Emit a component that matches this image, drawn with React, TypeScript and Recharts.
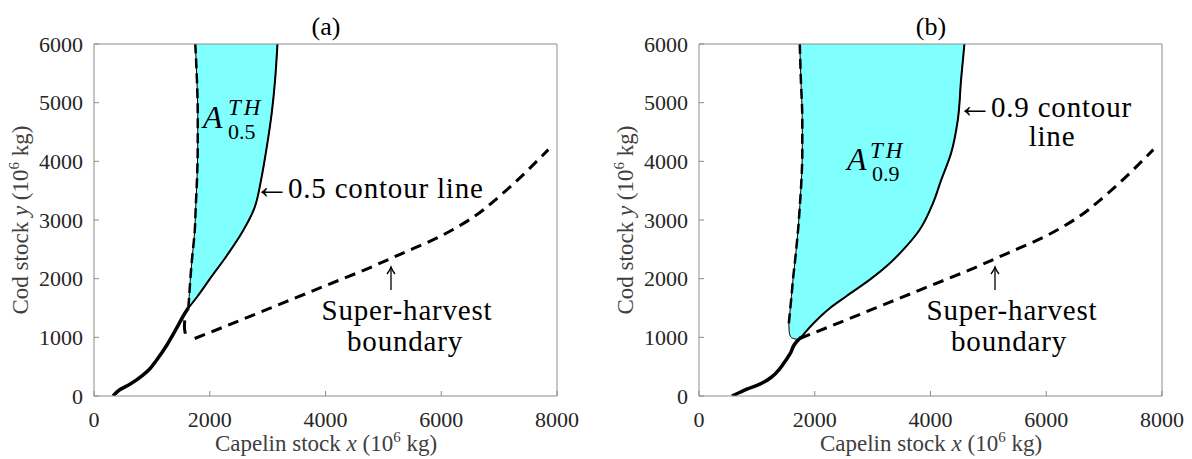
import React from 'react';
import { ComposedChart, Area, Line, XAxis, YAxis } from 'recharts';

const FONT = "'Liberation Serif', 'DejaVu Serif', 'Noto Serif', serif";
const TICK_COLOR = '#262626';
const LABEL_COLOR = '#404040';
const FRAME = '#8c8c8c';
const CYAN = '#80ffff';

const xTicks = [0, 2000, 4000, 6000, 8000];
const yTicks = [0, 1000, 2000, 3000, 4000, 5000, 6000];

// panel (a): solid trajectory from the origin side up to where the region starts
const lowerAX = [330, 450, 620, 850, 970, 1080, 1260, 1430, 1570, 1630];
const lowerAY = [0, 110, 200, 360, 470, 610, 870, 1160, 1410, 1500];

// panel (a): region A_0.5 (left = dashed boundary, right = 0.5 contour)
const bandAY = [1500, 1700, 2000, 2400, 2800, 3200, 3700, 4200, 4800, 5400, 6000];
const bandALeft = [1630, 1645, 1665, 1700, 1740, 1757, 1780, 1792, 1793, 1778, 1750];
const bandARight = [1630, 1790, 2005, 2300, 2565, 2770, 2890, 2978, 3068, 3130, 3170];

// panel (a): short piece of the lower boundary
const markAX = [1578, 1562, 1568];
const markAY = [1060, 1180, 1290];

// super-harvest boundary (same in both panels)
const superX = [1740, 2500, 3300, 4000, 4700, 5300, 6000, 6600, 7000, 7850];
const superY = [980, 1280, 1600, 1880, 2160, 2420, 2730, 3080, 3400, 4200];

// panel (b): solid trajectory
const lowerBX = [570, 700, 850, 1000, 1100, 1250, 1400, 1500, 1580, 1650, 1710, 1770];
const lowerBY = [0, 60, 125, 180, 225, 320, 470, 610, 730, 880, 950, 1005];

// panel (b): region A_0.9
const bandBY = [966, 980, 1010, 1060, 1120, 1240, 1380, 1500, 1700, 2000, 2260, 2550, 2830, 3280, 3680, 4140, 4700, 5400, 6000];
const bandBLeft = [1690, 1630, 1585, 1565, 1556, 1552, 1566, 1578, 1598, 1625, 1655, 1685, 1712, 1745, 1770, 1785, 1785, 1760, 1741];
const bandBRight = [1690, 1730, 1770, 1815, 1866, 1980, 2125, 2265, 2546, 2975, 3293, 3581, 3810, 4040, 4184, 4356, 4471, 4529, 4586];

const zip = (xs: number[], ys: number[]) => xs.map((x, i) => ({ x, y: ys[i] }));
const band = (ys: number[], lo: number[], hi: number[]) =>
    ys.map((y, i) => ({ y, lo: lo[i], hi: hi[i], range: [lo[i], hi[i]] }));

interface PanelProps {
    lower: { x: number; y: number }[];
    region: { y: number; lo: number; hi: number; range: number[] }[];
    dashedFrom: number;
    contourFrom: number;
    mark?: { x: number; y: number }[];
}

const tickStyle = { fontSize: 22, fill: TICK_COLOR, fontFamily: FONT };

const Panel: React.FC<PanelProps> = ({ lower, region, dashedFrom, contourFrom, mark }) => {
    const sup = zip(superX, superY);
    return (
        <ComposedChart
            width={600}
            height={459}
            layout="vertical"
            margin={{ top: 43, right: 42, bottom: 33, left: 34 }}
        >
            <XAxis
                type="number"
                domain={[0, 8000]}
                ticks={xTicks}
                allowDataOverflow
                height={30}
                tickSize={-5}
                tickMargin={20}
                tick={tickStyle}
                stroke={FRAME}
                interval={0}
            />
            <XAxis
                xAxisId="top"
                orientation="top"
                type="number"
                domain={[0, 8000]}
                ticks={xTicks}
                allowDataOverflow
                height={1}
                tickSize={-5}
                tick={false}
                stroke={FRAME}
            />
            <YAxis
                type="number"
                dataKey="y"
                domain={[0, 6000]}
                ticks={yTicks}
                reversed
                allowDataOverflow
                width={60}
                tickSize={-5}
                tickMargin={16}
                tick={tickStyle}
                stroke={FRAME}
                interval={0}
            />
            <YAxis
                yAxisId="right"
                orientation="right"
                type="number"
                dataKey="y"
                domain={[0, 6000]}
                ticks={yTicks}
                reversed
                allowDataOverflow
                width={1}
                tickSize={-5}
                tick={false}
                stroke={FRAME}
            />
            <Area
                data={region}
                dataKey="range"
                type="monotone"
                fill={CYAN}
                fillOpacity={1}
                stroke="#000"
                strokeWidth={1}
                isAnimationActive={false}
                dot={false}
                activeDot={false}
            />
            <Line
                data={region.slice(dashedFrom)}
                dataKey="lo"
                type="monotone"
                stroke="#000"
                strokeWidth={2.5}
                strokeDasharray="10 5"
                dot={false}
                activeDot={false}
                isAnimationActive={false}
            />
            <Line
                data={region.slice(contourFrom)}
                dataKey="hi"
                type="monotone"
                stroke="#000"
                strokeWidth={2}
                dot={false}
                activeDot={false}
                isAnimationActive={false}
            />
            <Line
                data={sup}
                dataKey="x"
                type="monotone"
                stroke="#000"
                strokeWidth={3}
                strokeDasharray="11 7"
                dot={false}
                activeDot={false}
                isAnimationActive={false}
            />
            {mark && (
                <Line
                    data={mark}
                    dataKey="x"
                    type="monotone"
                    stroke="#000"
                    strokeWidth={3}
                    dot={false}
                    activeDot={false}
                    isAnimationActive={false}
                />
            )}
            <Line
                data={lower}
                dataKey="x"
                type="monotone"
                stroke="#000"
                strokeWidth={3.5}
                dot={false}
                activeDot={false}
                isAnimationActive={false}
            />
        </ComposedChart>
    );
};

const ann = { fontSize: 29, letterSpacing: 0.8 };

// thin upward arrow pointing at the super-harvest boundary
const UpArrow: React.FC<{ cx: number; top: number; bottom: number }> = ({ cx, top, bottom }) => (
    <g stroke="#000" strokeWidth={1.3} fill="none">
        <line x1={cx} y1={bottom} x2={cx} y2={top} />
        <path d={`M${cx - 4},${top + 7} Q${cx - 1},${top + 3} ${cx},${top} Q${cx + 1},${top + 3} ${cx + 4},${top + 7}`} />
    </g>
);

// titles, axis labels and annotations
const Overlay: React.FC = () => (
    <svg
        width={1192}
        height={459}
        style={{ position: 'absolute', left: 0, top: 0, pointerEvents: 'none', fontFamily: FONT }}
    >
        {[{ cx: 326, t: '(a)' }, { cx: 931, t: '(b)' }].map((p) => (
            <g key={p.t}>
                <text x={p.cx} y={35} textAnchor="middle" fontSize={26} fill="#000">{p.t}</text>
                <text x={p.cx} y={451} textAnchor="middle" fontSize={23} fill={LABEL_COLOR}>
                    Capelin stock{' '}<tspan fontStyle="italic">x</tspan> (10
                    <tspan dy={-9} fontSize={15}>6</tspan>
                    <tspan dy={9}> kg)</tspan>
                </text>
                <text
                    transform={`translate(${p.cx - 298},220) rotate(-90)`}
                    textAnchor="middle"
                    fontSize={23}
                    fill={LABEL_COLOR}
                >
                    Cod stock{' '}<tspan fontStyle="italic">y</tspan> (10
                    <tspan dy={-9} fontSize={15}>6</tspan>
                    <tspan dy={9}> kg)</tspan>
                </text>
            </g>
        ))}

        {/* panel (a) annotations */}
        <text x={203} y={128} fontSize={32} fontStyle="italic">A</text>
        <text x={228} y={115} fontSize={23} fontStyle="italic" letterSpacing={3}>TH</text>
        <text x={228} y={139} fontSize={22}>0.5</text>
        <text x={254} y={198} {...ann}>
            <tspan fontSize={36} letterSpacing={-2}>←</tspan>0.5 contour line
        </text>
        <UpArrow cx={391} top={267} bottom={290} />
        <text x={407} y={320} textAnchor="middle" {...ann}>Super-harvest</text>
        <text x={405} y={351} textAnchor="middle" {...ann}>boundary</text>

        {/* panel (b) annotations */}
        <text x={847} y={170} fontSize={32} fontStyle="italic">A</text>
        <text x={870} y={158} fontSize={23} fontStyle="italic" letterSpacing={3}>TH</text>
        <text x={872} y={181} fontSize={22}>0.9</text>
        <text x={957} y={117} {...ann}>
            <tspan fontSize={36} letterSpacing={-2}>←</tspan>0.9 contour
        </text>
        <text x={1052} y={146} textAnchor="middle" {...ann}>line</text>
        <UpArrow cx={995} top={267} bottom={290} />
        <text x={1012} y={320} textAnchor="middle" {...ann}>Super-harvest</text>
        <text x={1009} y={351} textAnchor="middle" {...ann}>boundary</text>
    </svg>
);

const App: React.FC = () => {
    const bandA = band(bandAY, bandALeft, bandARight);
    const bandB = band(bandBY, bandBLeft, bandBRight);
    return (
        <div style={{ position: 'absolute', left: 0, top: 0, width: 1192, height: 459, background: '#fff', fontFamily: FONT }}>
            <div style={{ position: 'absolute', left: 0, top: 0 }}>
                <Panel lower={zip(lowerAX, lowerAY)} region={bandA} dashedFrom={0} contourFrom={0} mark={zip(markAX, markAY)} />
            </div>
            <div style={{ position: 'absolute', left: 605, top: 0 }}>
                <Panel lower={zip(lowerBX, lowerBY)} region={bandB} dashedFrom={5} contourFrom={2} />
            </div>
            <Overlay />
        </div>
    );
};

export default App;
